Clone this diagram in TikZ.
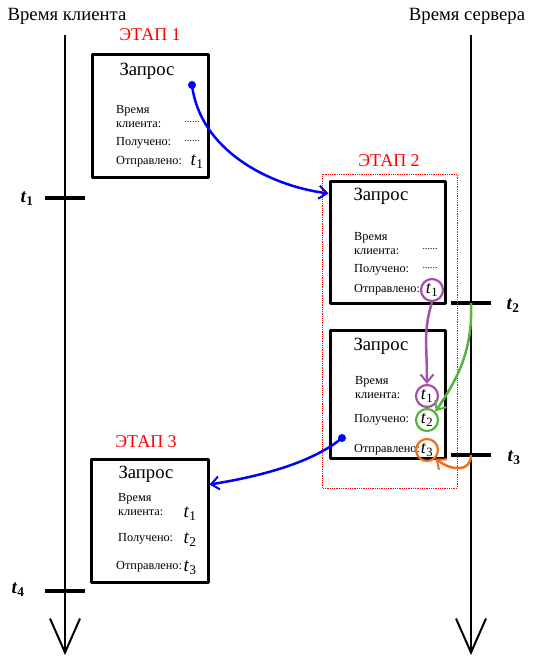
\documentclass[tikz,border=0pt]{standalone}
\usepackage{fontspec}
\setmainfont{Liberation Serif}
\usetikzlibrary{arrows.meta}
\definecolor{tpurple}{RGB}{165,80,170}
\definecolor{tgreen}{RGB}{85,180,60}
\definecolor{torange}{RGB}{240,110,30}
\begin{document}
\begin{tikzpicture}[x=1pt, y=-1pt, line join=round,
  axis/.style={line width=2.5pt, -{Straight Barb[length=34pt, width=30pt, line width=2pt]}},
  tick/.style={line width=4pt},
  reqbox/.style={draw, line width=3pt, inner sep=0pt},
  head/.style={font=\fontsize{18.7}{22}\selectfont},
  stage/.style={font=\fontsize{18}{21}\selectfont, text=red},
  lbl/.style={anchor=west, align=left, inner sep=0pt, font=\fontsize{12.3}{14}\selectfont},
  blank/.style={inner sep=0pt, font=\fontsize{10}{11}\selectfont},
  tval/.style={inner sep=0pt, font=\fontsize{19}{22}\selectfont},
  tlab/.style={inner sep=0pt, font=\fontsize{19}{22}\selectfont\bfseries},
  tmark/.style={circle, draw, line width=2.2pt, minimum size=22pt, inner sep=0pt, font=\fontsize{18}{20}\selectfont},
  dot/.style={circle, fill=blue, inner sep=0pt, minimum size=8pt},
  link/.style={line width=2.5pt, -{Straight Barb[length=8pt, width=13pt, line width=2pt]}}]
\useasboundingbox (0,0) rectangle (534,662);
% time axes
\node[head] (clk) at (67,16) {Время клиента};
\node[head] (srv) at (467,16) {Время сервера};
\coordinate (ctop) at (65,35);
\coordinate (cbot) at (65,655);
\coordinate (stop) at (471,35);
\coordinate (sbot) at (471,655);
\draw[axis] (ctop) -- (cbot);
\draw[axis] (stop) -- (sbot);
% ticks
\path
(65,198) coordinate (T1)
(471,303) coordinate (T2)
(471,455) coordinate (T3)
(65,591) coordinate (T4)
;
\foreach \p in {T1,T2,T3,T4}
  \draw[tick] ([xshift=-20pt]\p) -- ([xshift=20pt]\p);
\node[tlab] (lt1) at (27,199) {\textit{t}\textsubscript{1}};
\node[tlab] (lt2) at (513,306) {\textit{t}\textsubscript{2}};
\node[tlab] (lt3) at (514,458) {\textit{t}\textsubscript{3}};
\node[tlab] (lt4) at (18,590) {\textit{t}\textsubscript{4}};
% stage 1
\node[stage] (s1) at (150,35) {ЭТАП 1};
\node[reqbox, minimum width=116pt, minimum height=123pt] (box1) at (150,115.5) {};
\node[head] (q1) at (147,71) {Запрос};
\node[lbl] (b1a) at (116,117) {Время\\клиента:};
\node[blank] (b1d1) at (192,122) {......};
\node[lbl] (b1b) at (116,143) {Получено:};
\node[blank] (b1d2) at (192,141) {......};
\node[lbl] (b1c) at (116,162) {Отправлено:};
\node[tval] (b1t1) at (197,162) {\textit{t}\textsubscript{1}};
\node[dot] (dot1) at (192,85) {};
% stage 2
\node[stage] (s2) at (389,161) {ЭТАП 2};
\draw[red, densely dotted, line width=0.8pt] (322,174) rectangle (457,488);
\node[reqbox, minimum width=115pt, minimum height=122pt] (box2) at (387.5,242) {};
\node[head] (q2) at (381,196) {Запрос};
\node[lbl] (b2a) at (354,244) {Время\\клиента:};
\node[blank] (b2d1) at (430,249) {......};
\node[lbl] (b2b) at (354,270) {Получено:};
\node[blank] (b2d2) at (430,268) {......};
\node[lbl] (b2c) at (354,290) {Отправлено:};
\node[tmark, tpurple, text=black] (b2t1) at (432,290) {\textit{t}\textsubscript{1}};
\node[reqbox, minimum width=115pt, minimum height=128pt] (box3) at (387.5,394) {};
\node[head] (q3) at (381,346) {Запрос};
\node[lbl] (b3a) at (355,388) {Время\\клиента:};
\node[tmark, tpurple, text=black] (b3t1) at (427,396) {\textit{t}\textsubscript{1}};
\node[lbl] (b3b) at (354,420) {Получено:};
\node[tmark, tgreen, text=black] (b3t2) at (427,420) {\textit{t}\textsubscript{2}};
\node[lbl] (b3c) at (354,450) {Отправлено:};
\node[tmark, torange, text=black] (b3t3) at (427,450) {\textit{t}\textsubscript{3}};
\node[dot] (dot2) at (342,438) {};
% stage 3
\node[stage] (s3) at (146,442) {ЭТАП 3};
\node[reqbox, minimum width=117pt, minimum height=123pt] (box4) at (149.5,520.5) {};
\node[head] (q4) at (146,474) {Запрос};
\node[lbl] (b4a) at (118,505) {Время\\клиента:};
\node[tval] (b4t1) at (190,514) {\textit{t}\textsubscript{1}};
\node[lbl] (b4b) at (118,539) {Получено:};
\node[tval] (b4t2) at (190,540) {\textit{t}\textsubscript{2}};
\node[lbl] (b4c) at (116,567) {Отправлено:};
\node[tval] (b4t3) at (190,568) {\textit{t}\textsubscript{3}};
% messages
\draw[link, blue] (dot1.center) .. controls +(8,65) and +(-60,-8) .. ([yshift=-14pt]box2.north west);
\draw[link, blue] (dot2.center) .. controls +(-30,25) and +(50,-8) .. ([yshift=-27pt]box4.north east);
\draw[link, tpurple] (b2t1.south) .. controls +(-9,30) and +(0,-40) .. (b3t1.north);
\draw[link, tgreen] (T2) .. controls +(2,50) and +(20,-30) .. (b3t2.north east);
\draw[link, torange] (T3) .. controls +(0,18) and +(15,12) .. (b3t3.south east);
\end{tikzpicture}
\end{document}
